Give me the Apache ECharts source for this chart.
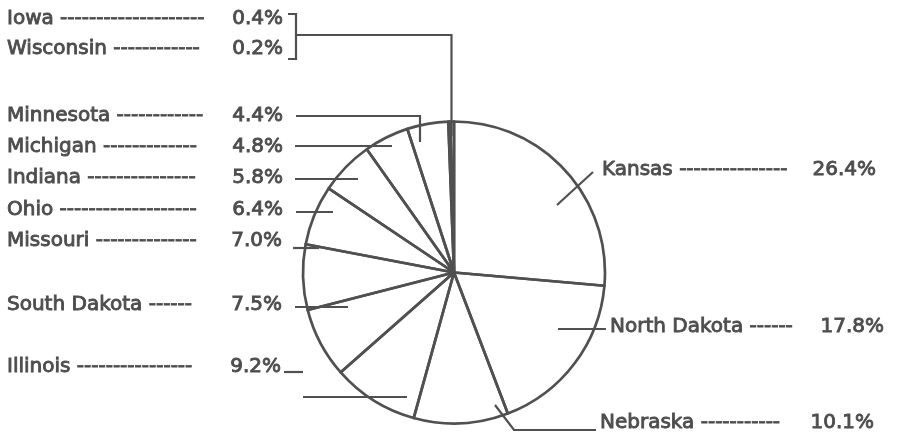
<!DOCTYPE html>
<html><head><meta charset="utf-8">
<script src="https://cdn.jsdelivr.net/npm/echarts@6/dist/echarts.min.js"></script>
<style>html,body{margin:0;padding:0;background:#fff}#c{width:897px;height:437px}</style>
</head><body><div id="c"></div>
<script>
// ---- data (clockwise from 12 o'clock) ----
const states = ['Kansas','North Dakota','Nebraska','Illinois','South Dakota','Missouri','Ohio','Indiana','Michigan','Minnesota','Wisconsin','Iowa'];
const shares = [26.4, 17.8, 10.1, 9.2, 7.5, 7.0, 6.4, 5.8, 4.8, 4.4, 0.2, 0.4];

// ---- layout (label placement & leader-line routing, pixels) ----
const FONT = '20px "DejaVu Sans"';
const TEXT_COLOR = '#4d4d4d';
const LINE_COLOR = '#505050';
const layout = {
  'Iowa':         {x:7,   y:18.5,dashEnd:205, pctEnd:283, line:[[451.5,136],[451.5,35],[296,35],[296,14],[288,14]]},
  'Wisconsin':    {x:7,   y:49,  dashEnd:205, pctEnd:283, line:[[296,35],[296,59],[288,59]]},
  'Minnesota':    {x:7,   y:115.5,dashEnd:205, pctEnd:283, line:[[420,142],[420,116],[296,116]]},
  'Michigan':     {x:7,   y:146.5,dashEnd:204, pctEnd:283, line:[[392,146],[295,146]]},
  'Indiana':      {x:7,   y:177.5,dashEnd:201, pctEnd:283, line:[[358,179],[295,179]]},
  'Ohio':         {x:7,   y:209.5,dashEnd:201, pctEnd:283, line:[[333,212],[296,212]]},
  'Missouri':     {x:7,   y:240.5,dashEnd:203, pctEnd:282, line:[[319,248],[293,248]]},
  'South Dakota': {x:7,   y:304.5,dashEnd:199, pctEnd:282, line:[[348,307],[295,307]]},
  'Illinois':     {x:7,   y:366.5,dashEnd:199, pctEnd:281, line:[[407,397],[303,397]]},
  'Kansas':       {x:602, y:169.5,dashEnd:788, pctEnd:876, line:[[557,205],[593,172]]},
  'North Dakota': {x:610, y:326.5,dashEnd:795, pctEnd:884, line:[[558,329],[606,329]]},
  'Nebraska':     {x:600, y:422.5,dashEnd:785, pctEnd:874, line:[[495,405],[514,430],[596,430]]}
};

const ctx = document.createElement('canvas').getContext('2d');
ctx.font = FONT;
function withDashes(name, L) {
  const base = ctx.measureText(name + ' ').width;
  const dw = ctx.measureText('-').width;
  const n = Math.max(0, Math.floor((L.dashEnd - L.x - base) / dw));
  return name + ' ' + '-'.repeat(n);
}

const pieData = states.map((s, i) => ({name: s, value: shares[i]}));
const txt = {fontFamily: 'DejaVu Sans', fontSize: 20, color: TEXT_COLOR,
             textBorderColor: TEXT_COLOR, textBorderWidth: 0.9};

const chart = echarts.init(document.getElementById('c'), null, {renderer: 'canvas'});
chart.setOption({
  backgroundColor: '#fff',
  animation: false,
  series: [{
    type: 'pie',
    center: [454, 272.5],
    radius: 151,
    startAngle: 90,
    clockwise: true,
    avoidLabelOverlap: false,
    silent: true,
    itemStyle: {color: 'rgba(255,255,255,0)', borderColor: LINE_COLOR, borderWidth: 2.7},
    label: {
      show: true,
      position: 'outside',
      formatter: p => {
        const L = layout[p.name];
        return '{n|' + withDashes(p.name, L) + '}{p|' + p.value.toFixed(1) + '%}';
      },
      rich: {
        n: Object.assign({align: 'left'}, txt),
        p: Object.assign({align: 'right'}, txt)
      }
    },
    labelLine: {show: true, smooth: false, lineStyle: {color: LINE_COLOR, width: 2.2}},
    labelLayout: function (params) {
      const L = layout[states[params.dataIndex]];
      return {
        x: L.x, y: L.y, align: 'left', verticalAlign: 'middle',
        width: L.pctEnd - L.x,
        labelLinePoints: L.line
      };
    },
    data: pieData
  }],
  graphic: [{
    type: 'polyline', silent: true,
    shape: {points: [[303, 372], [284, 372]]},
    style: {stroke: LINE_COLOR, lineWidth: 2.2, fill: null}
  }]
});
</script></body></html>
